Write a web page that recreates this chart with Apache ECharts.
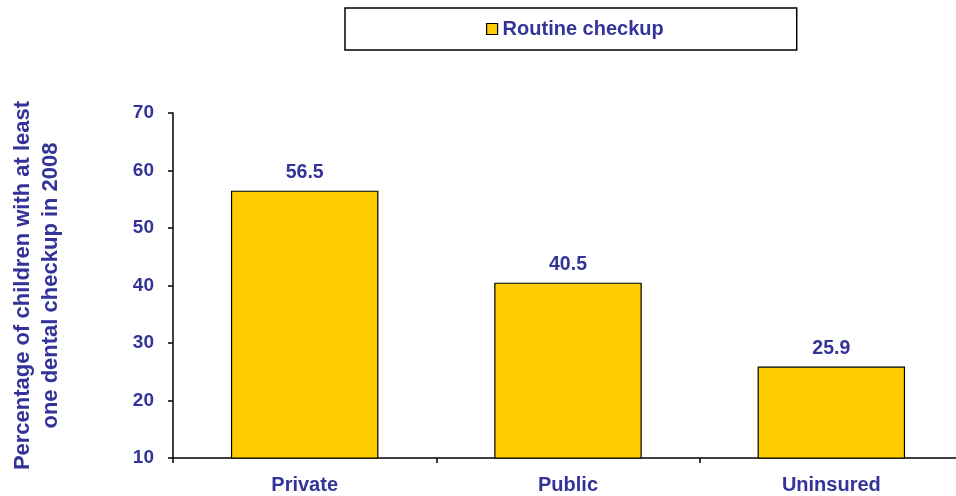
<!DOCTYPE html>
<html>
<head>
<meta charset="utf-8">
<script src="https://cdn.jsdelivr.net/npm/echarts@6/dist/echarts.min.js"></script>
<style>html,body{margin:0;padding:0;background:#fff}#c{width:956px;height:496px}</style>
</head>
<body>
<div id="c"></div>
<script>
var categories = ['Private', 'Public', 'Uninsured'];
var routineCheckup = [56.5, 40.5, 25.9];
var seriesName = 'Routine checkup';
var yTitle = 'Percentage of children with at least\none dental checkup in 2008';

var txt = '#333399';
var font = 'Liberation Sans';
var chart = echarts.init(document.getElementById('c'));
chart.setOption({
  animation: false,
  textStyle: { fontFamily: font },
  legend: {
    left: 345, top: 8,
    padding: [11, 133, 11, 141],
    borderColor: '#000', borderWidth: 1.5,
    itemWidth: 11, itemHeight: 11, itemGap: 5,
    icon: 'rect',
    textStyle: { color: txt, fontWeight: 'bold', fontSize: 20, fontFamily: font },
    data: [{ name: seriesName, itemStyle: { borderColor: '#000', borderWidth: 1.2 } }]
  },
  grid: { left: 173, top: 113, width: 790, bottom: 38, containLabel: false, outerBoundsMode: 'none' },
  xAxis: {
    type: 'category', data: categories,
    axisLine: { lineStyle: { color: '#000', width: 1.5 } },
    axisTick: { show: true, length: 5, lineStyle: { color: '#000', width: 1.5 } },
    axisLabel: { color: txt, fontWeight: 'bold', fontSize: 20, margin: 17, fontFamily: font }
  },
  yAxis: {
    type: 'value', min: 10, max: 70, interval: 10,
    name: yTitle, nameLocation: 'middle', nameRotate: 90, nameGap: 108,
    nameTextStyle: { color: txt, fontWeight: 'bold', fontSize: 22, lineHeight: 28, fontFamily: font },
    axisLine: { show: true, lineStyle: { color: '#000', width: 1.5 } },
    axisTick: { show: true, length: 5, lineStyle: { color: '#000', width: 1.5 } },
    splitLine: { show: false },
    axisLabel: { color: txt, fontWeight: 'bold', fontSize: 19, margin: 19, fontFamily: font }
  },
  series: [{
    name: seriesName, type: 'bar', data: routineCheckup,
    barWidth: '56%',
    itemStyle: { color: '#FFCC00', borderColor: '#000', borderWidth: 1.2 },
    label: { show: true, position: 'top', distance: 8, color: txt, fontWeight: 'bold', fontSize: 19.5, fontFamily: font }
  }]
});
</script>
</body>
</html>
